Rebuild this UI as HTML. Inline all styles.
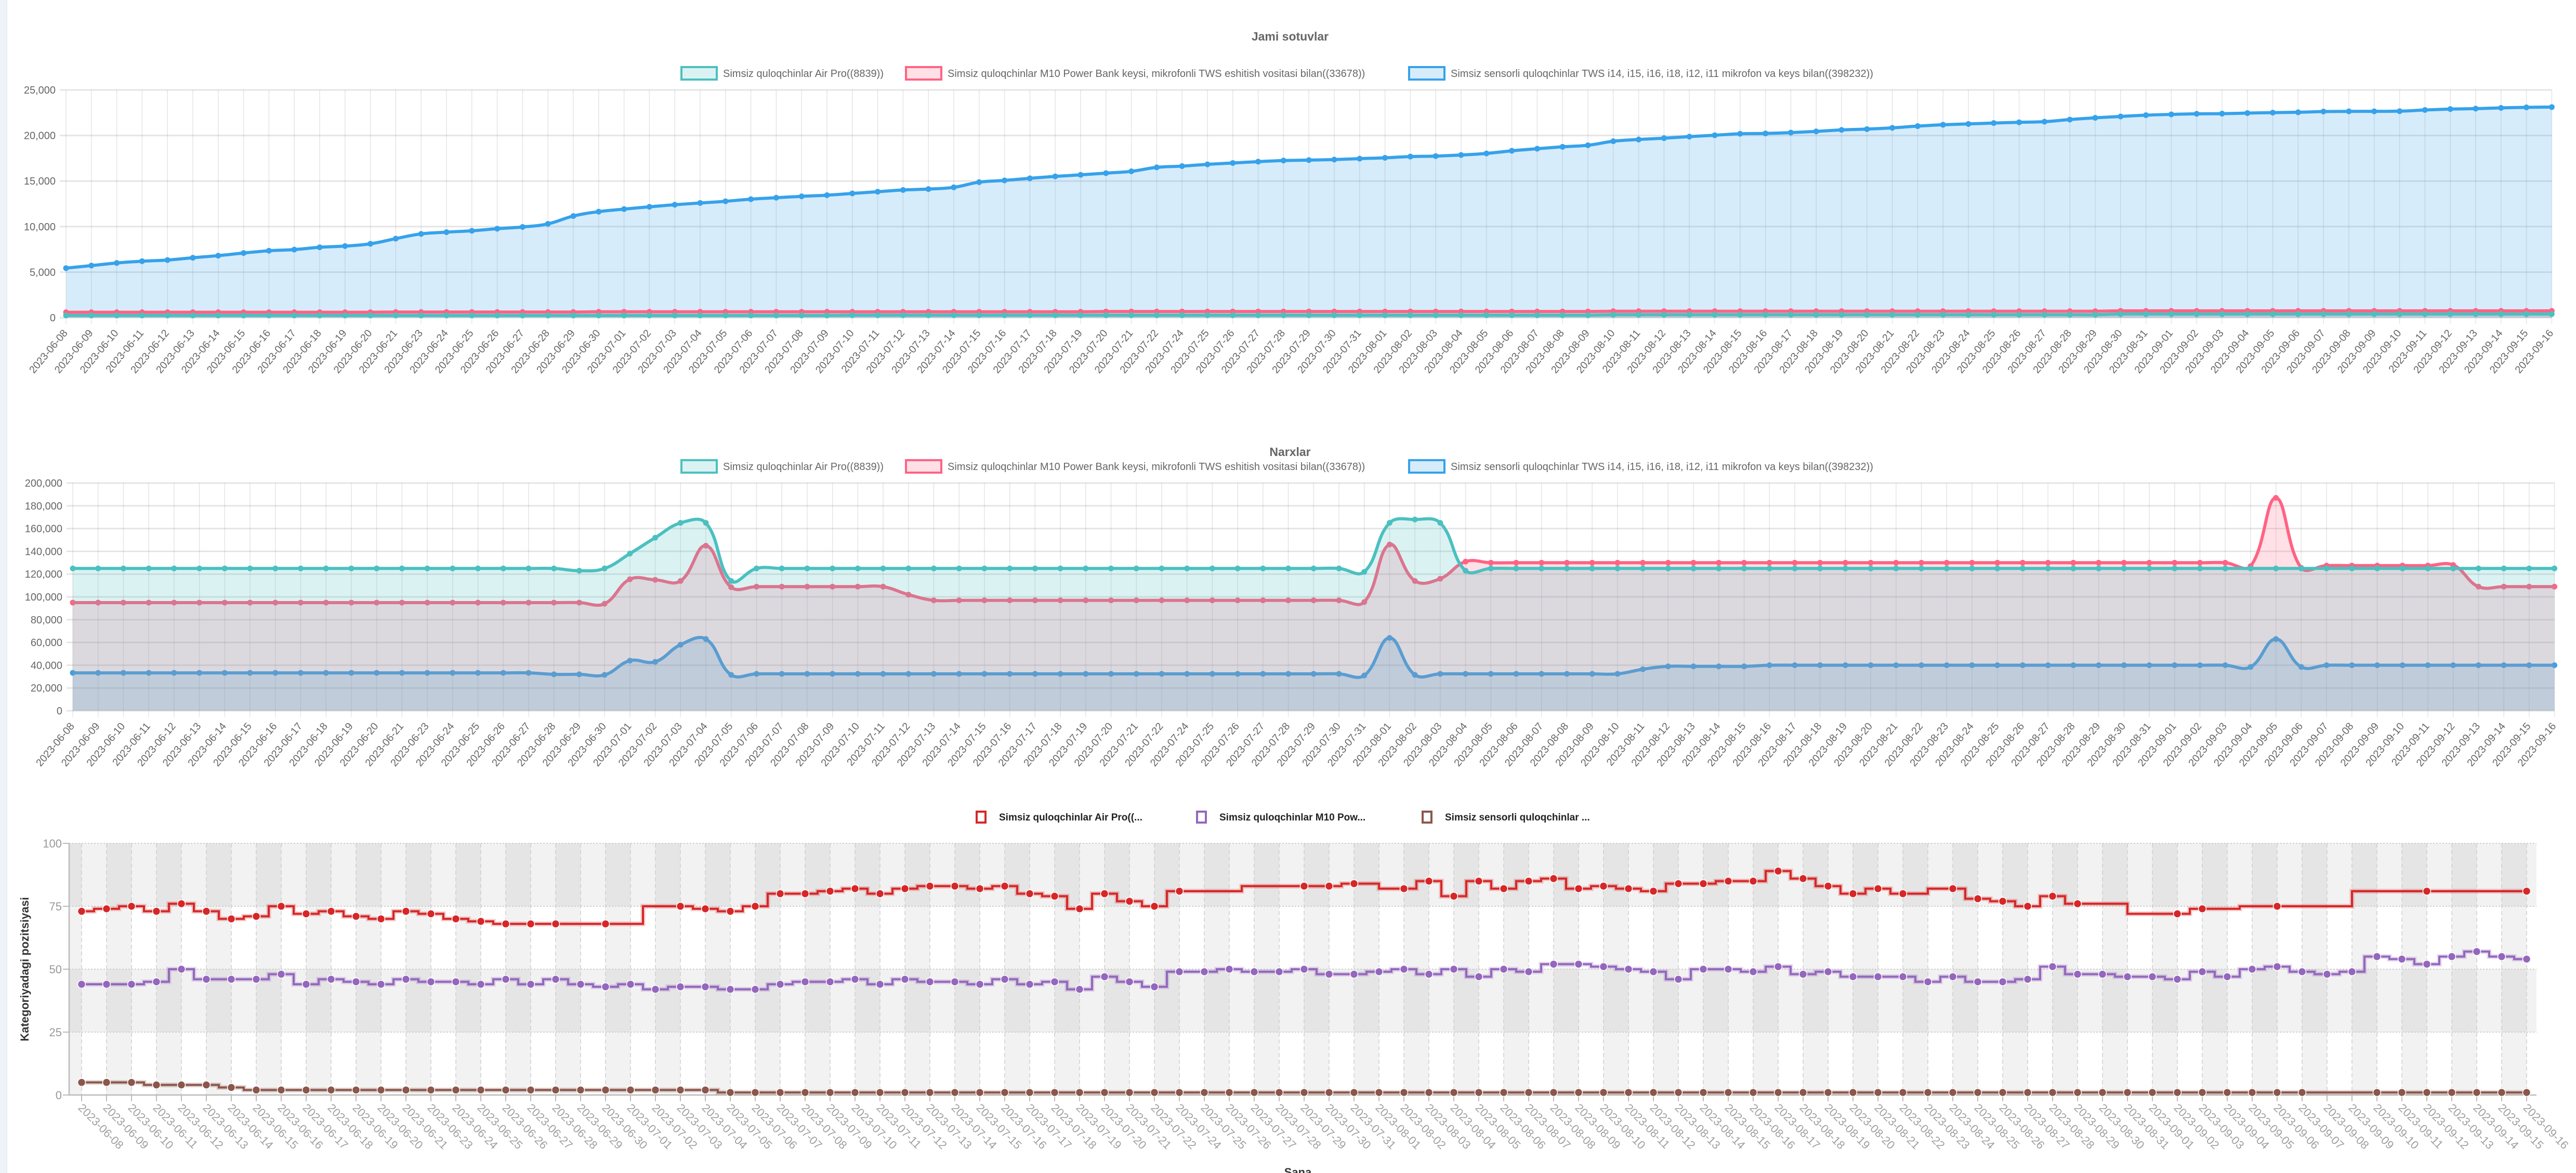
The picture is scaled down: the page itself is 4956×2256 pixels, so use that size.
<!DOCTYPE html>
<html><head><meta charset="utf-8"><title>Charts</title>
<style>
html,body{margin:0;padding:0;background:#fff;}
body{width:4956px;height:2256px;overflow:hidden;position:relative;font-family:"Liberation Sans",Arial,sans-serif;}
#strip{position:absolute;left:0;top:0;width:13px;height:2256px;background:#eef3f9;border-right:1px solid #dfe6ef;}
svg{position:absolute;left:0;top:0;}
</style></head>
<body>
<div id="strip"></div>
<svg id="svg" width="4956" height="2256" viewBox="0 0 4956 2256"></svg>
<script>
const dates=["2023-06-08","2023-06-09","2023-06-10","2023-06-11","2023-06-12","2023-06-13","2023-06-14","2023-06-15","2023-06-16","2023-06-17","2023-06-18","2023-06-19","2023-06-20","2023-06-21","2023-06-23","2023-06-24","2023-06-25","2023-06-26","2023-06-27","2023-06-28","2023-06-29","2023-06-30","2023-07-01","2023-07-02","2023-07-03","2023-07-04","2023-07-05","2023-07-06","2023-07-07","2023-07-08","2023-07-09","2023-07-10","2023-07-11","2023-07-12","2023-07-13","2023-07-14","2023-07-15","2023-07-16","2023-07-17","2023-07-18","2023-07-19","2023-07-20","2023-07-21","2023-07-22","2023-07-24","2023-07-25","2023-07-26","2023-07-27","2023-07-28","2023-07-29","2023-07-30","2023-07-31","2023-08-01","2023-08-02","2023-08-03","2023-08-04","2023-08-05","2023-08-06","2023-08-07","2023-08-08","2023-08-09","2023-08-10","2023-08-11","2023-08-12","2023-08-13","2023-08-14","2023-08-15","2023-08-16","2023-08-17","2023-08-18","2023-08-19","2023-08-20","2023-08-21","2023-08-22","2023-08-23","2023-08-24","2023-08-25","2023-08-26","2023-08-27","2023-08-28","2023-08-29","2023-08-30","2023-08-31","2023-09-01","2023-09-02","2023-09-03","2023-09-04","2023-09-05","2023-09-06","2023-09-07","2023-09-08","2023-09-09","2023-09-10","2023-09-11","2023-09-12","2023-09-13","2023-09-14","2023-09-15","2023-09-16"];
const seriesNames=["Simsiz quloqchinlar Air Pro((8839))","Simsiz quloqchinlar M10 Power Bank keysi, mikrofonli TWS eshitish vositasi bilan((33678))","Simsiz sensorli quloqchinlar TWS i14, i15, i16, i18, i12, i11 mikrofon va keys bilan((398232))"];
const shortNames=["Simsiz quloqchinlar Air Pro((...","Simsiz quloqchinlar M10 Pow...","Simsiz sensorli quloqchinlar ..."];
const c1Ticks=[0,5000,10000,15000,20000,25000];
const c2Ticks=[0,20000,40000,60000,80000,100000,120000,140000,160000,180000,200000];
const c3Ticks=[0,25,50,75,100];
const c1Air=[250,250,250,250,250,250,250,250,250,250,250,250,250,250,250,250,250,250,250,250,250,250,250,250,250,250,250,250,250,250,250,280,280,280,280,280,280,280,280,280,280,280,280,280,280,280,280,280,280,280,280,280,280,280,280,280,280,280,280,280,280,330,330,330,330,330,330,330,330,330,330,330,330,330,330,330,330,330,330,330,330,400,400,400,400,400,400,400,400,400,400,400,400,400,400,400,400,400,400];
const c1M10=[600,600,600,600,600,600,600,600,600,600,600,600,600,620,620,620,620,620,620,620,620,650,650,650,650,650,650,650,650,650,650,650,650,650,650,650,650,650,650,650,650,680,680,680,680,680,680,680,680,680,680,680,680,680,680,680,680,680,680,680,680,710,710,710,710,710,710,710,710,710,710,710,710,710,710,710,710,710,710,710,710,750,750,750,750,750,750,750,750,750,750,750,750,750,750,750,750,750,750];
const c1TWS=[5440,5720,6010,6200,6330,6580,6810,7100,7350,7480,7730,7860,8110,8680,9200,9390,9540,9770,9960,10300,11160,11640,11920,12170,12400,12590,12780,13010,13170,13320,13450,13640,13830,14020,14120,14310,14880,15070,15300,15510,15680,15870,16070,16500,16640,16830,16980,17130,17250,17300,17360,17460,17550,17690,17740,17860,18030,18320,18550,18760,18930,19370,19560,19710,19880,20030,20190,20230,20320,20450,20610,20700,20840,21030,21180,21270,21370,21450,21520,21750,21940,22090,22230,22320,22380,22400,22460,22510,22550,22630,22650,22650,22670,22800,22900,22950,23030,23090,23120];
const c2Air=[125000,125000,125000,125000,125000,125000,125000,125000,125000,125000,125000,125000,125000,125000,125000,125000,125000,125000,125000,125000,123000,125000,138000,152000,165000,165000,114000,125000,125000,125000,125000,125000,125000,125000,125000,125000,125000,125000,125000,125000,125000,125000,125000,125000,125000,125000,125000,125000,125000,125000,125000,122000,165000,168000,165000,123000,125000,125000,125000,125000,125000,125000,125000,125000,125000,125000,125000,125000,125000,125000,125000,125000,125000,125000,125000,125000,125000,125000,125000,125000,125000,125000,125000,125000,125000,125000,125000,125000,125000,125000,125000,125000,125000,125000,125000,125000,125000,125000,125000];
const c2M10=[95000,95000,95000,95000,95000,95000,95000,95000,95000,95000,95000,95000,95000,95000,95000,95000,95000,95000,95000,95000,95000,94000,115500,115000,114000,145000,108500,109000,109000,109000,109000,109000,109000,102000,97000,97000,97000,97000,97000,97000,97000,97000,97000,97000,97000,97000,97000,97000,97000,97000,97000,95500,146000,114000,116000,131000,130000,130000,130000,130000,130000,130000,130000,130000,130000,130000,130000,130000,130000,130000,130000,130000,130000,130000,130000,130000,130000,130000,130000,130000,130000,130000,130000,130000,130000,130000,127000,187000,125500,127500,127500,127500,127500,127500,128000,109000,109000,109000,109000];
const c2TWS=[33300,33300,33300,33300,33300,33300,33300,33300,33300,33300,33300,33300,33300,33300,33300,33300,33300,33300,33300,32000,32000,31500,44000,43000,58000,63000,31500,32400,32400,32400,32400,32400,32400,32400,32400,32400,32400,32400,32400,32400,32400,32400,32400,32400,32400,32400,32400,32400,32400,32400,32400,31000,64000,31500,32400,32400,32400,32400,32400,32400,32400,32400,36500,39000,39000,39000,39000,40000,40000,40000,40000,40000,40000,40000,40000,40000,40000,40000,40000,40000,40000,40000,40000,40000,40000,40000,38500,63000,38500,40000,40000,40000,40000,40000,40000,40000,40000,40000,40000];
const c3Air=[73,74,75,73,76,73,70,71,75,72,73,71,70,73,72,70,69,68,68,68,null,68,null,null,75,74,73,75,80,80,81,82,80,82,83,83,82,83,80,79,74,80,77,75,81,null,null,null,null,83,83,84,null,82,85,79,85,82,85,86,82,83,82,81,84,84,85,85,89,86,83,80,82,80,null,82,78,77,75,79,76,null,null,null,72,74,null,null,75,null,null,null,null,null,81,null,null,null,81];
const c3M10=[44,44,44,45,50,46,46,46,48,44,46,45,44,46,45,45,44,46,44,46,44,43,44,42,43,43,42,42,44,45,45,46,44,46,45,45,44,46,44,45,42,47,45,43,49,49,50,49,49,50,48,48,49,50,48,50,47,50,49,52,52,51,50,49,46,50,50,49,51,48,49,47,47,47,45,47,45,45,46,51,48,48,47,47,46,49,47,50,51,49,48,49,55,54,52,55,57,55,54];
const c3TWS=[5,5,5,4,4,4,3,2,2,2,2,2,2,2,2,2,2,2,2,2,2,2,2,2,2,2,1,1,1,1,1,1,1,1,1,1,1,1,1,1,1,1,1,1,1,1,1,1,1,1,1,1,1,1,1,1,1,1,1,1,1,1,1,1,1,1,1,1,1,1,1,1,1,1,1,1,1,1,1,1,1,1,1,1,1,1,1,1,1,1,null,null,1,1,1,1,1,1,1];

const NS="http://www.w3.org/2000/svg";
const svg=document.getElementById('svg');
function mk(tag,parent){const e=document.createElementNS(NS,tag);(parent||svg).appendChild(e);return e;}
function fmt(v){return v.toString().replace(/\B(?=(\d{3})+(?!\d))/g,",");}

function spline(pts,t){
  const cps=[];
  for(let i=0;i<pts.length;i++){
    const p=pts[Math.max(0,i-1)],c=pts[i],n=pts[Math.min(pts.length-1,i+1)];
    const d01=Math.hypot(c[0]-p[0],c[1]-p[1]),d12=Math.hypot(n[0]-c[0],n[1]-c[1]);
    let s01=d01/(d01+d12),s12=d12/(d01+d12);
    if(isNaN(s01))s01=0;if(isNaN(s12))s12=0;
    const fa=t*s01,fb=t*s12;
    cps.push([[c[0]-fa*(n[0]-p[0]),c[1]-fa*(n[1]-p[1])],[c[0]+fb*(n[0]-p[0]),c[1]+fb*(n[1]-p[1])]]);
  }
  let d="M"+pts[0][0]+","+pts[0][1];
  for(let i=1;i<pts.length;i++){
    const a=cps[i-1][1],b=cps[i][0];
    d+=" C"+a[0].toFixed(1)+","+a[1].toFixed(1)+" "+b[0].toFixed(1)+","+b[1].toFixed(1)+" "+pts[i][0].toFixed(1)+","+pts[i][1].toFixed(1);
  }
  return d;
}

function lineChart(cfg){
  const g=mk('g');
  
  
  const xs=i=>cfg.left+i*cfg.step;
  const ys=v=>cfg.bottom-(v/cfg.max)*(cfg.bottom-cfg.top);
  const right=xs(dates.length-1);
  // title
  const t=mk('text',g);
  
  
  t.setAttribute('x',2482);t.setAttribute('y',cfg.titleY);
  t.setAttribute('text-anchor','middle');t.setAttribute('font-size','23');t.setAttribute('font-weight','bold');t.setAttribute('fill','#666');
  t.textContent=cfg.title;
  // legend
  const cols=[["#4bc0c0","rgba(75,192,192,0.2)"],["#ff6384","rgba(255,99,132,0.2)"],["#36a2eb","rgba(54,162,235,0.2)"]];
  const lx=[1309,1741,2709];
  for(let k=0;k<3;k++){
    const lg=mk('g',g);
    
    
    const r=mk('rect',lg);
    r.setAttribute('x',lx[k]+2);r.setAttribute('y',cfg.legendY-12);r.setAttribute('width',68);r.setAttribute('height',24);
    r.setAttribute('fill',cols[k][1]);r.setAttribute('stroke',cols[k][0]);r.setAttribute('stroke-width',4);
    const tx=mk('text',lg);
    tx.setAttribute('x',lx[k]+82);tx.setAttribute('y',cfg.legendY+7);tx.setAttribute('font-size','20');tx.setAttribute('fill','#666');
    tx.textContent=seriesNames[k];
  }
  // grid
  const grid=mk('g',g);
  
  
  for(let i=0;i<dates.length;i++){
    const l=mk('line',grid);
    l.setAttribute('x1',xs(i));l.setAttribute('x2',xs(i));l.setAttribute('y1',cfg.top);l.setAttribute('y2',cfg.bottom+12);
    l.setAttribute('stroke','rgba(0,0,0,0.1)');l.setAttribute('stroke-width',1.5);
  }
  cfg.ticks.forEach(v=>{
    const l=mk('line',grid);
    l.setAttribute('x1',cfg.left-12);l.setAttribute('x2',right);l.setAttribute('y1',ys(v));l.setAttribute('y2',ys(v));
    l.setAttribute('stroke','rgba(0,0,0,0.1)');l.setAttribute('stroke-width',3);
    const tx=mk('text',grid);
    
    
    tx.setAttribute('x',cfg.left-20);tx.setAttribute('y',ys(v)+7);tx.setAttribute('text-anchor','end');tx.setAttribute('font-size','20');tx.setAttribute('fill','#666');
    tx.textContent=fmt(v);
  });
  // x labels
  const xl=mk('g',g);
  
  
  dates.forEach((d,i)=>{
    const tx=mk('text',xl);
    const x=xs(i)+4,y=cfg.bottom+30;
    tx.setAttribute('x',x);tx.setAttribute('y',y);tx.setAttribute('text-anchor','end');tx.setAttribute('font-size','20');tx.setAttribute('fill','#666');
    tx.setAttribute('transform','rotate(-50 '+x+' '+y+')');
    tx.textContent=d;
  });
  // series: draw TWS, M10, Air (Air on top)
  const order=[2,1,0];
  order.forEach(k=>{
    const data=cfg.data[k];
    const pts=data.map((v,i)=>[xs(i),ys(v)]);
    const sg=mk('g',g);
    
    
    const d=spline(pts,0.4);
    const f=mk('path',sg);
    f.setAttribute('d',d+" L"+pts[pts.length-1][0]+","+cfg.bottom+" L"+pts[0][0]+","+cfg.bottom+" Z");
    f.setAttribute('fill',cols[k][1]);
    const p=mk('path',sg);
    p.setAttribute('d',d);p.setAttribute('fill','none');p.setAttribute('stroke',cols[k][0]);p.setAttribute('stroke-width',6);
    pts.forEach(pt=>{
      const c=mk('circle',sg);
      c.setAttribute('cx',pt[0]);c.setAttribute('cy',pt[1]);c.setAttribute('r',5.5);c.setAttribute('fill',cols[k][0]);
    });
  });
}

lineChart({name:'sales-chart',title:'Jami sotuvlar',titleY:78,legendY:141,left:127,step:48.8,top:173,bottom:611,max:25000,ticks:c1Ticks,data:[c1Air,c1M10,c1TWS]});
lineChart({name:'price-chart',title:'Narxlar',titleY:877,legendY:897,left:140,step:48.72,top:929,bottom:1367,max:200000,ticks:c2Ticks,data:[c2Air,c2M10,c2TWS]});

// chart 3: position step chart
(function(){
  const g=mk('g');
  
  
  const L=133,R=4880,T=1622,B=2106,step=48,x0=157;
  const xs=i=>x0+i*step;
  const ys=v=>B-(v/100)*(B-T);
  const bands=mk('g',g);
  
  
  [[75,100],[25,50]].forEach(b=>{
    const r=mk('rect',bands);
    r.setAttribute('x',L);r.setAttribute('y',ys(b[1]));r.setAttribute('width',R-L);r.setAttribute('height',ys(b[0])-ys(b[1]));r.setAttribute('fill','#f2f2f2');
  });
  for(let i=-1;i<dates.length;i++){
    if(((i%2)+2)%2!==1)continue;
    const a=i<0?L:xs(i),b=Math.min(R,xs(i+1));
    const r=mk('rect',bands);
    r.setAttribute('x',a);r.setAttribute('y',T);r.setAttribute('width',b-a);r.setAttribute('height',B-T);r.setAttribute('fill','rgba(0,0,0,0.052)');
  }
  const grid=mk('g',g);
  
  
  for(let i=0;i<dates.length;i++){
    const l=mk('line',grid);
    l.setAttribute('x1',xs(i));l.setAttribute('x2',xs(i));l.setAttribute('y1',T);l.setAttribute('y2',B);
    l.setAttribute('stroke','#cfcfcf');l.setAttribute('stroke-width',1.5);l.setAttribute('stroke-dasharray','8,5');
    const tk=mk('line',grid);
    tk.setAttribute('x1',xs(i));tk.setAttribute('x2',xs(i));tk.setAttribute('y1',B);tk.setAttribute('y2',B+12);
    tk.setAttribute('stroke','#bbb');tk.setAttribute('stroke-width',2);
  }
  c3Ticks.forEach(v=>{
    const l=mk('line',grid);
    l.setAttribute('x1',L);l.setAttribute('x2',R);l.setAttribute('y1',ys(v));l.setAttribute('y2',ys(v));
    l.setAttribute('stroke','#cfcfcf');l.setAttribute('stroke-width',2);l.setAttribute('stroke-dasharray','3,3');
    const tk=mk('line',grid);
    tk.setAttribute('x1',L-12);tk.setAttribute('x2',L);tk.setAttribute('y1',ys(v));tk.setAttribute('y2',ys(v));tk.setAttribute('stroke','#bbb');tk.setAttribute('stroke-width',2);
    const tx=mk('text',grid);
    
    
    tx.setAttribute('x',L-14);tx.setAttribute('y',ys(v)+8);tx.setAttribute('text-anchor','end');tx.setAttribute('font-size','22');tx.setAttribute('fill','#999');
    tx.textContent=v;
  });
  const ax=mk('path',g);
  
  
  ax.setAttribute('d','M'+L+','+T+' V'+B+' H'+R);ax.setAttribute('stroke','#bbb');ax.setAttribute('stroke-width',2.5);ax.setAttribute('fill','none');
  const xl=mk('g',g);
  
  
  dates.forEach((d,i)=>{
    const tx=mk('text',xl);
    const x=xs(i)-8,y=B+26;
    tx.setAttribute('x',x);tx.setAttribute('y',y);tx.setAttribute('font-size','22');tx.setAttribute('fill','#a0a0a0');
    tx.setAttribute('transform','rotate(45 '+x+' '+y+')');
    tx.textContent=d;
  });
  const yt=mk('text',g);
  
  
  yt.setAttribute('x',55);yt.setAttribute('y',1864);yt.setAttribute('text-anchor','middle');yt.setAttribute('font-size','22');yt.setAttribute('font-weight','bold');yt.setAttribute('fill','#333');
  yt.setAttribute('transform','rotate(-90 55 1864)');
  yt.textContent='Kategoriyadagi pozitsiyasi';
  const xt=mk('text',g);
  
  
  xt.setAttribute('x',2497);xt.setAttribute('y',2262);xt.setAttribute('text-anchor','middle');xt.setAttribute('font-size','22');xt.setAttribute('font-weight','bold');xt.setAttribute('fill','#333');
  xt.textContent='Sana';
  const cols=['#d62728','#9467bd','#8c564b'];
  const lbx=[1877,2301,2735];
  for(let k=0;k<3;k++){
    const lg=mk('g',g);
    
    
    const r=mk('rect',lg);
    r.setAttribute('x',lbx[k]+2);r.setAttribute('y',1561);r.setAttribute('width',17);r.setAttribute('height',21);r.setAttribute('fill','#fff');r.setAttribute('stroke',cols[k]);r.setAttribute('stroke-width',4);
    const tx=mk('text',lg);
    tx.setAttribute('x',lbx[k]+45);tx.setAttribute('y',1578);tx.setAttribute('font-size','19');tx.setAttribute('font-weight','bold');tx.setAttribute('fill','#222');
    tx.textContent=shortNames[k];
  }
  [c3Air,c3M10,c3TWS].forEach((data,k)=>{
    const sg=mk('g',g);
    
    
    const pts=[];
    data.forEach((v,i)=>{if(v!==null)pts.push([xs(i),ys(v)]);});
    let d='M'+pts[0][0]+','+pts[0][1];
    for(let j=1;j<pts.length;j++){
      const m=(pts[j-1][0]+pts[j][0])/2;
      d+=' H'+m+' V'+pts[j][1]+' H'+pts[j][0];
    }
    const halo=mk('path',sg);
    halo.setAttribute('d',d);halo.setAttribute('fill','none');halo.setAttribute('stroke',cols[k]);halo.setAttribute('stroke-opacity','0.25');halo.setAttribute('stroke-width',9);
    const p=mk('path',sg);
    p.setAttribute('d',d);p.setAttribute('fill','none');p.setAttribute('stroke',cols[k]);p.setAttribute('stroke-width',4);
    pts.forEach(pt=>{
      const c=mk('circle',sg);
      c.setAttribute('cx',pt[0]);c.setAttribute('cy',pt[1]);c.setAttribute('r',7.5);c.setAttribute('fill',cols[k]);c.setAttribute('stroke','#fff');c.setAttribute('stroke-width',1.5);
    });
  });
})();
</script>
</body></html>
